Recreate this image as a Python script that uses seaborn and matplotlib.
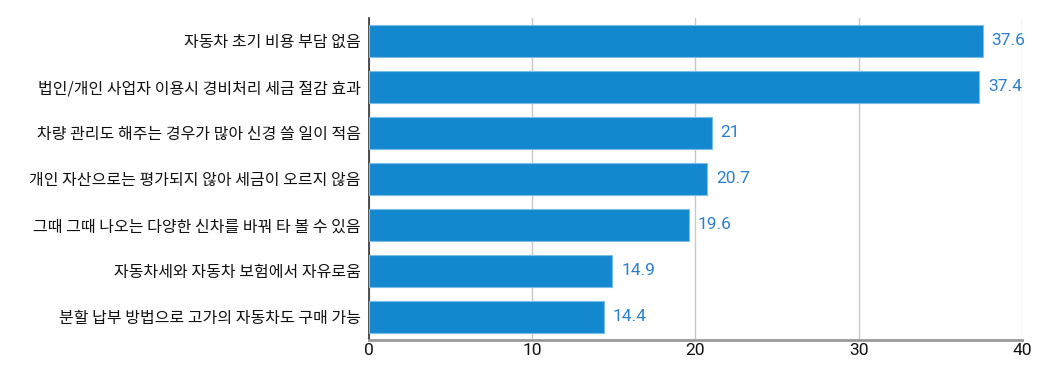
import matplotlib
matplotlib.use("Agg")
import matplotlib.pyplot as plt
import seaborn as sns
import pandas as pd

categories = [
    "자동차 초기 비용 부담 없음",
    "법인/개인 사업자 이용시 경비처리 세금 절감 효과",
    "차량 관리도 해주는 경우가 많아 신경 쓸 일이 적음",
    "개인 자산으로는 평가되지 않아 세금이 오르지 않음",
    "그때 그때 나오는 다양한 신차를 바꿔 타 볼 수 있음",
    "자동차세와 자동차 보험에서 자유로움",
    "분할 납부 방법으로 고가의 자동차도 구매 가능",
]
values = [37.6, 37.4, 21, 20.7, 19.6, 14.9, 14.4]
value_labels = ["37.6", "37.4", "21", "20.7", "19.6", "14.9", "14.4"]
x_ticks = [0, 10, 20, 30, 40]

df = pd.DataFrame({"item": categories, "value": values})

sns.set_theme(style="white")
plt.rcParams["font.family"] = ["Noto Sans CJK KR", "DejaVu Sans"]

fig = plt.figure(figsize=(10.6, 3.79), dpi=100)
ax = fig.add_axes([0.348, 0.103, 0.616, 0.850])

sns.barplot(data=df, x="value", y="item", color="#1488cf", saturation=1,
            width=0.7, edgecolor="#7cbde8", linewidth=0.8, ax=ax, zorder=3)

for i, (v, lab) in enumerate(zip(values, value_labels)):
    ax.text(v + 0.55, i, lab, va="center", ha="left", color="#2a7fd0",
            fontsize=12.5, family=["Roboto", "DejaVu Sans"])

ax.set_xlim(0, 40)
ax.set_ylim(6.5, -0.5)
ax.set_xticks(x_ticks)
ax.set_xticklabels([str(t) for t in x_ticks], fontsize=12.5, family=["Roboto", "DejaVu Sans"])
ax.tick_params(axis="y", labelsize=11.5, length=0, pad=6, colors="#111111")
ax.tick_params(axis="x", length=0, pad=2, colors="#111111")
ax.set_xlabel("")
ax.set_ylabel("")
ax.grid(axis="x", color="#c8c8c8", linewidth=1, zorder=0)
ax.grid(axis="y", visible=False)

for s in ["top", "right"]:
    ax.spines[s].set_visible(False)
ax.spines["left"].set_color("#333333")
ax.spines["left"].set_linewidth(1.2)
ax.spines["bottom"].set_color("#999999")
ax.spines["bottom"].set_linewidth(2)

fig.savefig("out.png", dpi=100)
